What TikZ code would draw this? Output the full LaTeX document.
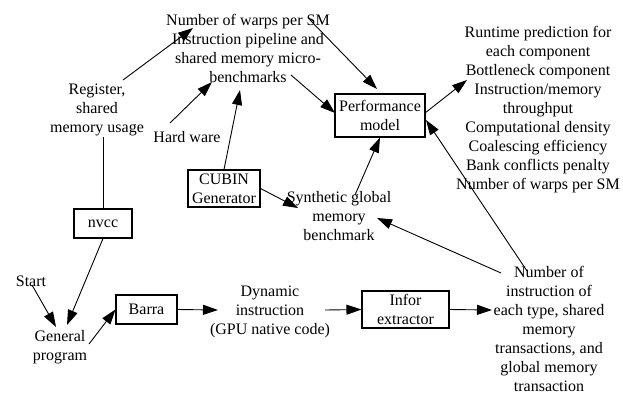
\documentclass[tikz,border=0pt]{standalone}
\usepackage{fontspec}
\setmainfont{Liberation Serif}
\usetikzlibrary{arrows.meta}
\tikzset{
  lbl/.style={align=center, inner sep=0pt, font=\fontsize{16}{19}\selectfont},
  box/.style={draw, line width=1.1pt, align=center, inner sep=0pt, font=\fontsize{16}{19}\selectfont},
  arr/.style={line width=0.9pt, -{Triangle[length=15pt,width=10pt]}},
  ln/.style={line width=0.9pt}
}
\begin{document}
\begin{tikzpicture}[x=1pt,y=-1pt]
\useasboundingbox (0,0) rectangle (623,394);
% text nodes
\node[lbl] (top) at (248,48) {Number of warps per SM\\Instruction pipeline and\\shared memory micro-\\benchmarks};
\node[lbl] (reg) at (97,110) {Register,\\shared\\memory usage};
\node[lbl] (hw) at (187,137) {Hard ware};
\node[lbl] (syn) at (339,216.5) {Synthetic global\\memory\\benchmark};
\node[lbl] (out) at (538,110) {Runtime prediction for\\each component\\Bottleneck component\\Instruction/memory\\throughput\\Computational density\\Coalescing efficiency\\Bank conflicts penalty\\Number of warps per SM};
\node[lbl] (start) at (31,281) {Start};
\node[lbl] (gen) at (60,347.5) {General\\program};
\node[lbl] (dyn) at (270,311.5) {Dynamic\\instruction\\(GPU native code)};
\node[lbl] (num) at (549,329) {Number of\\instruction of\\each type, shared\\memory\\transactions, and\\global memory\\transaction};
% boxes
\node[box, minimum width=72pt, minimum height=37pt] (cubin) at (224,188.5) {CUBIN\\Generator};
\node[box, minimum width=90pt, minimum height=43pt] (perf) at (380,115.5) {Performance\\model};
\node[box, minimum width=58pt, minimum height=29pt] (nvcc) at (103,223.5) {nvcc};
\node[box, minimum width=61pt, minimum height=29pt] (barra) at (146.5,309.5) {Barra};
\node[box, minimum width=87pt, minimum height=37pt] (infor) at (405.5,309.5) {Infor\\extractor};
% connector end points
\coordinate (regA) at (123,80);
\coordinate (topA) at (193,28);
\coordinate (hwA) at (170,123);
\coordinate (topB) at (212,82);
\coordinate (topC) at (240,90);
\coordinate (topD) at (310,20);
\coordinate (perfA) at (377,89);
\coordinate (topE) at (291,75);
\coordinate (perfB) at (335,113);
\coordinate (perfC) at (425,113);
\coordinate (outA) at (467,80);
\coordinate (synA) at (355,195);
\coordinate (synB) at (298,208);
\coordinate (numA) at (501,273);
\coordinate (synC) at (377,218);
\coordinate (numB) at (527,271);
\coordinate (perfD) at (426,120);
\coordinate (regB) at (103,137);
\coordinate (genA) at (67,325);
\coordinate (startA) at (32,285);
\coordinate (genB) at (56,327);
\coordinate (genC) at (89,344);
\coordinate (dynA) at (218,310);
\coordinate (dynB) at (325,310);
\coordinate (numC) at (492,310);
% connectors
\draw[arr] (regA) -- (topA);
\draw[arr] (hwA) -- (topB);
\draw[arr] (cubin.north) -- (topC);
\draw[arr] (topD) -- (perfA);
\draw[arr] (topE) -- (perfB);
\draw[arr] (perfC) -- (outA);
\draw[arr] (synA) -- (perf.south);
\draw[arr] (cubin.east) -- (synB);
\draw[arr] (numA) -- (synC);
\draw[arr] (numB) -- (perfD);
\draw[ln] (regB) -- (nvcc.north);
\draw[arr] (nvcc.south) -- (genA);
\draw[arr] (startA) -- (genB);
\draw[arr] (genC) -- (barra.west);
\draw[arr] (barra.east) -- (dynA);
\draw[arr] (dynB) -- (infor.west);
\draw[arr] (infor.east) -- (numC);
\end{tikzpicture}
\end{document}
